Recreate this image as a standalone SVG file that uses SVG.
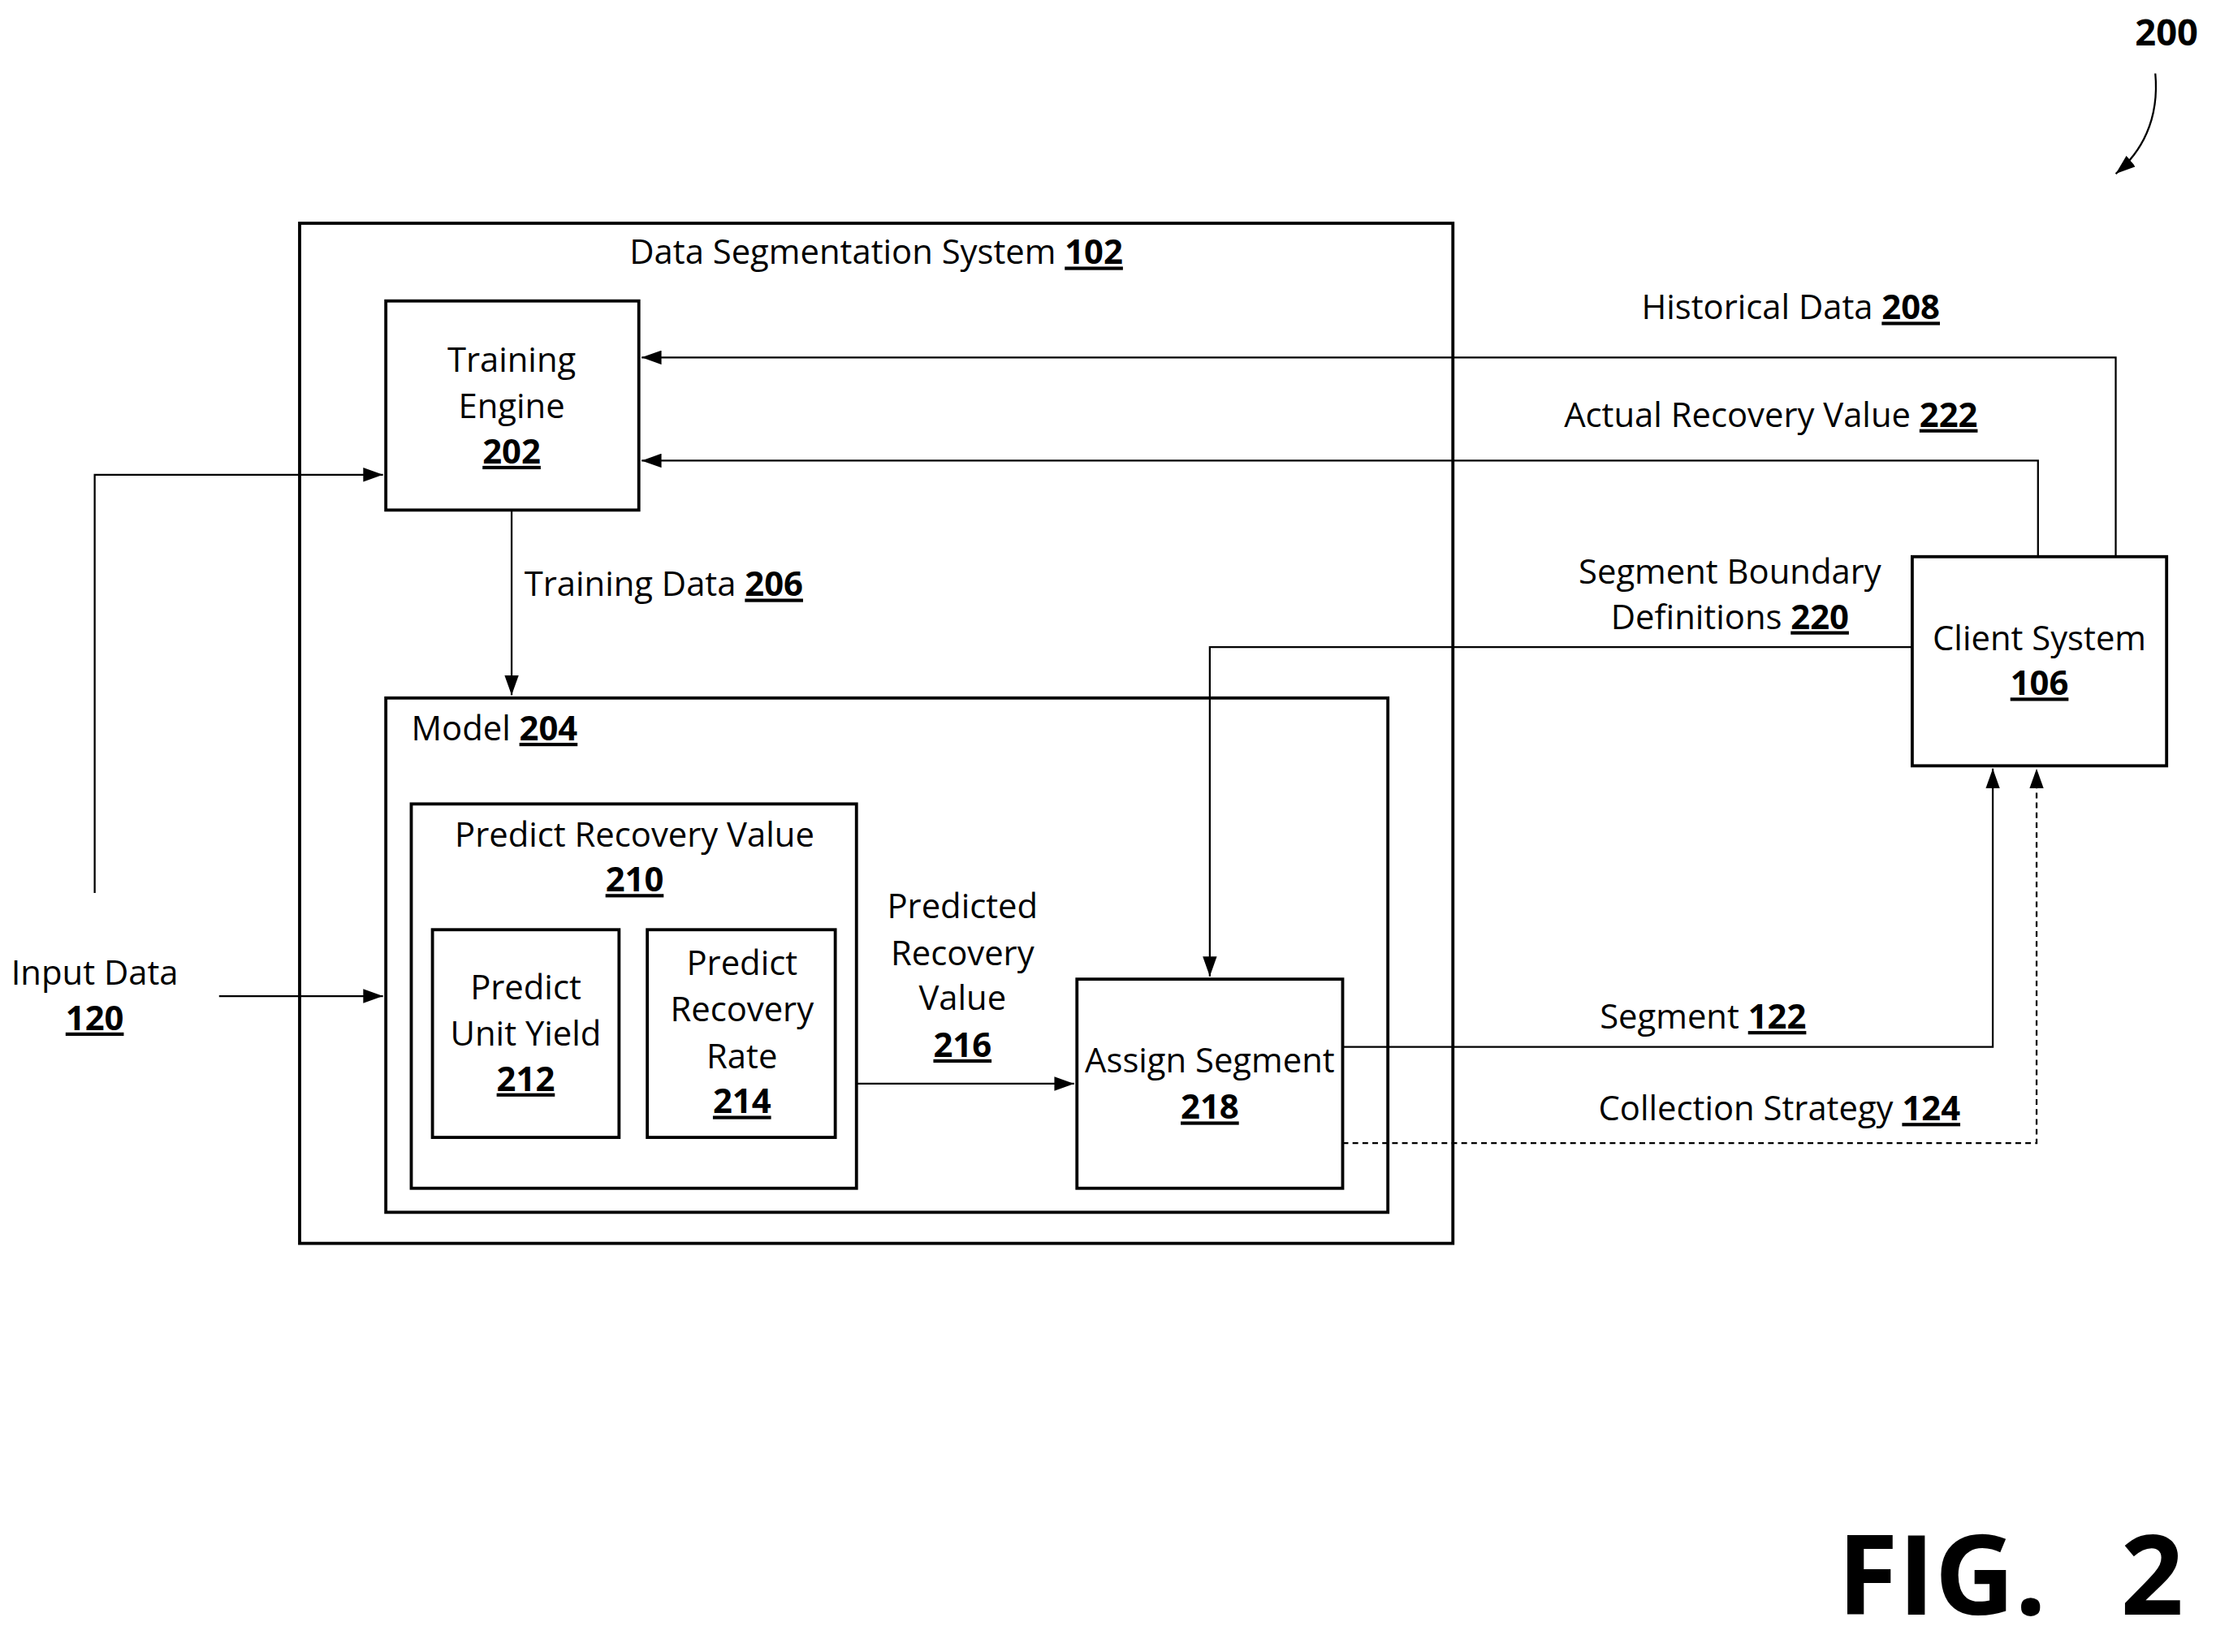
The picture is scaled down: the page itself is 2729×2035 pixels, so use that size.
<svg xmlns="http://www.w3.org/2000/svg" width="2729" height="2035" viewBox="0 0 2729 2035">
<defs>
<marker id="ah" markerWidth="14" markerHeight="10" refX="14" refY="5" orient="auto" markerUnits="userSpaceOnUse"><path d="M0,0 L14,5 L0,10 z" fill="#000"/></marker>
<style>
.b{fill:#fff;stroke:#000;stroke-width:2.2}
.t{font-family:"Open Sans","Liberation Sans",sans-serif;font-size:24px;fill:#000;text-anchor:middle}
.l{fill:none;stroke:#000;stroke-width:1.3}
.u{text-decoration:underline;font-weight:bold}
.f{font-family:"Open Sans","Liberation Sans",sans-serif;font-weight:bold;font-size:78px;fill:#000}
</style>
</defs>
<rect width="2729" height="2035" fill="#fff"/>
<g transform="scale(1.7405)">
<g id="dss"><rect class="b" x="212" y="158" width="816" height="722"/><text class="t" x="620" y="187">Data Segmentation System <tspan class="u">102</tspan></text></g>
<g id="te"><rect class="b" x="273" y="213" width="179" height="148"/><text class="t" x="362" y="263">Training</text><text class="t" x="362" y="296">Engine</text><text class="t" x="362" y="328"><tspan class="u">202</tspan></text></g>
<g id="model"><rect class="b" x="273" y="494" width="709" height="364"/><text class="t" x="291" y="524" style="text-anchor:start">Model <tspan class="u">204</tspan></text></g>
<g id="prv"><rect class="b" x="291" y="569" width="315" height="272"/><text class="t" x="449" y="599">Predict Recovery Value</text><text class="t" x="449" y="631"><tspan class="u">210</tspan></text></g>
<g id="puy"><rect class="b" x="306" y="658" width="132" height="147"/><text class="t" x="372" y="707">Predict</text><text class="t" x="372" y="740">Unit Yield</text><text class="t" x="372" y="772"><tspan class="u">212</tspan></text></g>
<g id="prr"><rect class="b" x="458" y="658" width="133" height="147"/><text class="t" x="525" y="690">Predict</text><text class="t" x="525" y="723">Recovery</text><text class="t" x="525" y="756">Rate</text><text class="t" x="525" y="788"><tspan class="u">214</tspan></text></g>
<g id="as"><rect class="b" x="762" y="693" width="188" height="148"/><text class="t" x="856" y="759">Assign Segment</text><text class="t" x="856" y="792"><tspan class="u">218</tspan></text></g>
<g id="cs"><rect class="b" x="1353" y="394" width="180" height="148"/><text class="t" x="1443" y="460">Client System</text><text class="t" x="1443" y="492"><tspan class="u">106</tspan></text></g>
<g id="input"><text class="t" x="67" y="697">Input Data</text><text class="t" x="67" y="729"><tspan class="u">120</tspan></text></g>
<g id="connectors">
<path class="l" d="M67,632 V336 H271" marker-end="url(#ah)"/>
<path class="l" d="M155,705 H271" marker-end="url(#ah)"/>
<path class="l" d="M362,361 V492" marker-end="url(#ah)"/>
<path class="l" d="M1497,394 V253 H454" marker-end="url(#ah)"/>
<path class="l" d="M1442,394 V326 H454" marker-end="url(#ah)"/>
<path class="l" d="M1353,458 H856 V691" marker-end="url(#ah)"/>
<path class="l" d="M606,767 H760" marker-end="url(#ah)"/>
<path class="l" d="M950,741 H1410 V544" marker-end="url(#ah)"/>
<path class="l" d="M950,809 H1441 V544" stroke-dasharray="4,3" marker-end="url(#ah)"/>
<path class="l" d="M1525,52 C1528,85 1515,108 1497,123" marker-end="url(#ah)"/>
</g>
<text class="t" x="371" y="422" style="text-anchor:start">Training Data <tspan class="u">206</tspan></text>
<text class="t" x="1267" y="226">Historical Data <tspan class="u">208</tspan></text>
<text class="t" x="1253" y="302">Actual Recovery Value <tspan class="u">222</tspan></text>
<text class="t" x="1224" y="413">Segment Boundary</text>
<text class="t" x="1224" y="445">Definitions <tspan class="u">220</tspan></text>
<text class="t" x="681" y="650">Predicted</text>
<text class="t" x="681" y="683">Recovery</text>
<text class="t" x="681" y="715">Value</text>
<text class="t" x="681" y="748"><tspan class="u">216</tspan></text>
<text class="t" x="1205" y="728">Segment <tspan class="u">122</tspan></text>
<text class="t" x="1259" y="793">Collection Strategy <tspan class="u">124</tspan></text>
<text class="t" x="1533" y="32" style="font-weight:bold;font-size:26px">200</text>
<text class="f" x="1300" y="1143" textLength="148" lengthAdjust="spacingAndGlyphs">FIG.</text>
<text class="f" x="1545" y="1143" text-anchor="end">2</text>
</g>
</svg>
